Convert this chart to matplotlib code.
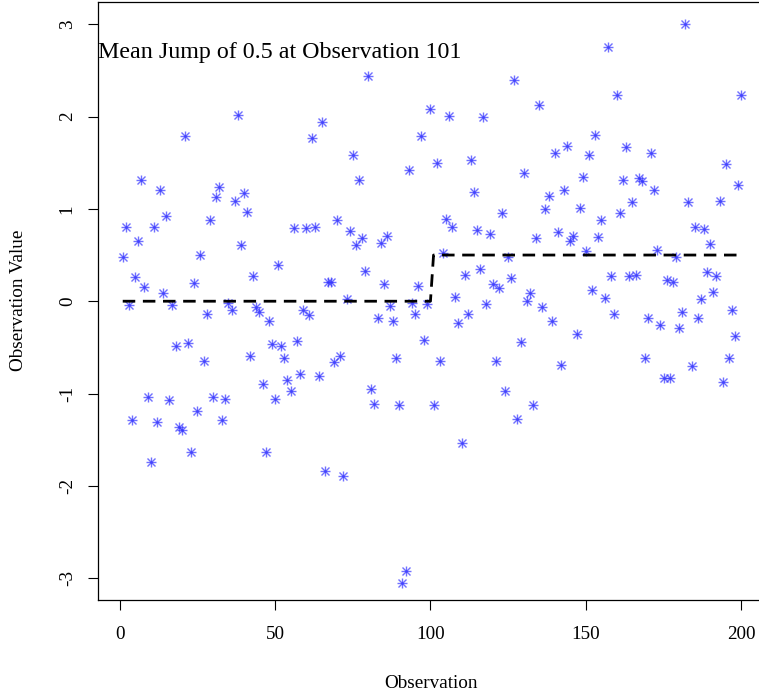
import matplotlib
matplotlib.use('Agg')
import matplotlib.pyplot as plt
import numpy as np

plt.rcParams['font.family'] = ['Liberation Serif', 'DejaVu Serif']
plt.rcParams['lines.scale_dashes'] = False

obs_1_50 = [0.48, 0.80, -0.04, -1.29, 0.26, 0.65, 1.31, 0.15, -1.04, -1.74,
            0.80, -1.31, 1.20, 0.09, 0.92, -1.07, -0.04, -0.48, -1.36, -1.39,
            1.79, -0.45, -1.63, 0.20, -1.19, 0.50, -0.65, -0.14, 0.88, -1.04,
            1.13, 1.24, -1.29, -1.06, -0.02, -0.10, 1.08, 2.02, 0.61, 1.17,
            0.97, -0.59, 0.27, -0.06, -0.12, -0.90, -1.63, -0.21, -0.46, -1.06]
obs_51_100 = [0.39, -0.48, -0.61, -0.85, -0.97, 0.79, -0.43, -0.79, -0.09, 0.79,
              -0.15, 1.77, 0.80, -0.81, 1.94, -1.84, 0.21, 0.21, -0.66, 0.88,
              -0.59, -1.89, 0.02, 0.76, 1.58, 0.61, 1.31, 0.68, 0.33, 2.44,
              -0.95, -1.11, -0.18, 0.63, 0.19, 0.71, -0.05, -0.21, -0.61, -1.12,
              -3.05, -2.92, 1.42, -0.02, -0.14, 0.17, 1.79, -0.42, -0.03, 2.08]
obs_101_150 = [-1.12, 1.50, -0.65, 0.52, 0.89, 2.01, 0.80, 0.05, -0.24, -1.54,
               0.28, -0.14, 1.53, 1.18, 0.77, 0.35, 1.99, -0.03, 0.73, 0.19,
               -0.65, 0.14, 0.96, -0.97, 0.48, 0.25, 2.40, -1.27, -0.44, 1.39,
               0.00, 0.09, -1.12, 0.68, 2.12, -0.06, 1.00, 1.14, -0.21, 1.60,
               0.75, -0.69, 1.20, 1.68, 0.65, 0.71, -0.35, 1.01, 1.35, 0.54]
obs_151_200 = [1.58, 0.12, 1.80, 0.69, 0.88, 0.03, 2.75, 0.27, -0.14, 2.23,
               0.95, 1.31, 1.67, 0.27, 1.07, 0.28, 1.33, 1.30, -0.62, -0.18,
               1.61, 1.20, 0.55, -0.26, -0.83, 0.23, -0.83, 0.21, 0.48, -0.29,
               -0.12, 3.00, 1.07, -0.70, 0.80, -0.18, 0.02, 0.78, 0.32, 0.62,
               0.10, 0.27, 1.08, -0.87, 1.49, -0.61, -0.09, -0.38, 1.26, 2.23]

jump_at = 101
jump_size = 0.5
x_ticks = [0, 50, 100, 150, 200]
y_ticks = [-3, -2, -1, 0, 1, 2, 3]

y = np.array(obs_1_50 + obs_51_100 + obs_101_150 + obs_151_200)
x = np.arange(1, len(y) + 1)
mean_line = np.where(x >= jump_at, jump_size, 0.0)

W, H = 759, 696
fig = plt.figure(figsize=(W / 100, H / 100), dpi=100)
# R-style plot region; right edge runs past the picture like in the reference
ax = fig.add_axes([98 / W, (H - 600) / H, (766 - 98) / W, (600 - 1.7) / H])

blue = (0.2, 0.2, 1.0, 0.7)
ax.plot(x, y, ls='none', marker='+', ms=7, mew=1.0, color=blue)
ax.plot(x, y, ls='none', marker='x', ms=5.5, mew=1.0, color=blue)
ax.plot(x, mean_line, color='black', lw=2.0, dashes=(9, 5.5))

ax.set_xlim(-6.96, 207.96)
ax.set_ylim(-3.235, 3.243)
ax.set_xticks(x_ticks)
ax.set_yticks(y_ticks)
ax.set_yticklabels([str(v) for v in y_ticks], rotation=90, va='center')
ax.tick_params(direction='out', length=7, width=0.8, labelsize=13.8, pad=9)
ax.tick_params(axis='x', pad=12)
for s in ax.spines.values():
    s.set_linewidth(0.9)
ax.spines['right'].set_visible(False)

ax.text(51.6, 2.63, 'Mean Jump of 0.5 at Observation 101', fontsize=17.3,
        ha='center', va='baseline')

fig.text(431 / W, 1 - 683 / H, 'Observation', fontsize=13.8, ha='center', va='center')
fig.text(19 / W, 1 - 300 / H, 'Observation Value', fontsize=13.8,
         rotation=90, ha='center', va='center')

fig.savefig('out.png', dpi=100)
